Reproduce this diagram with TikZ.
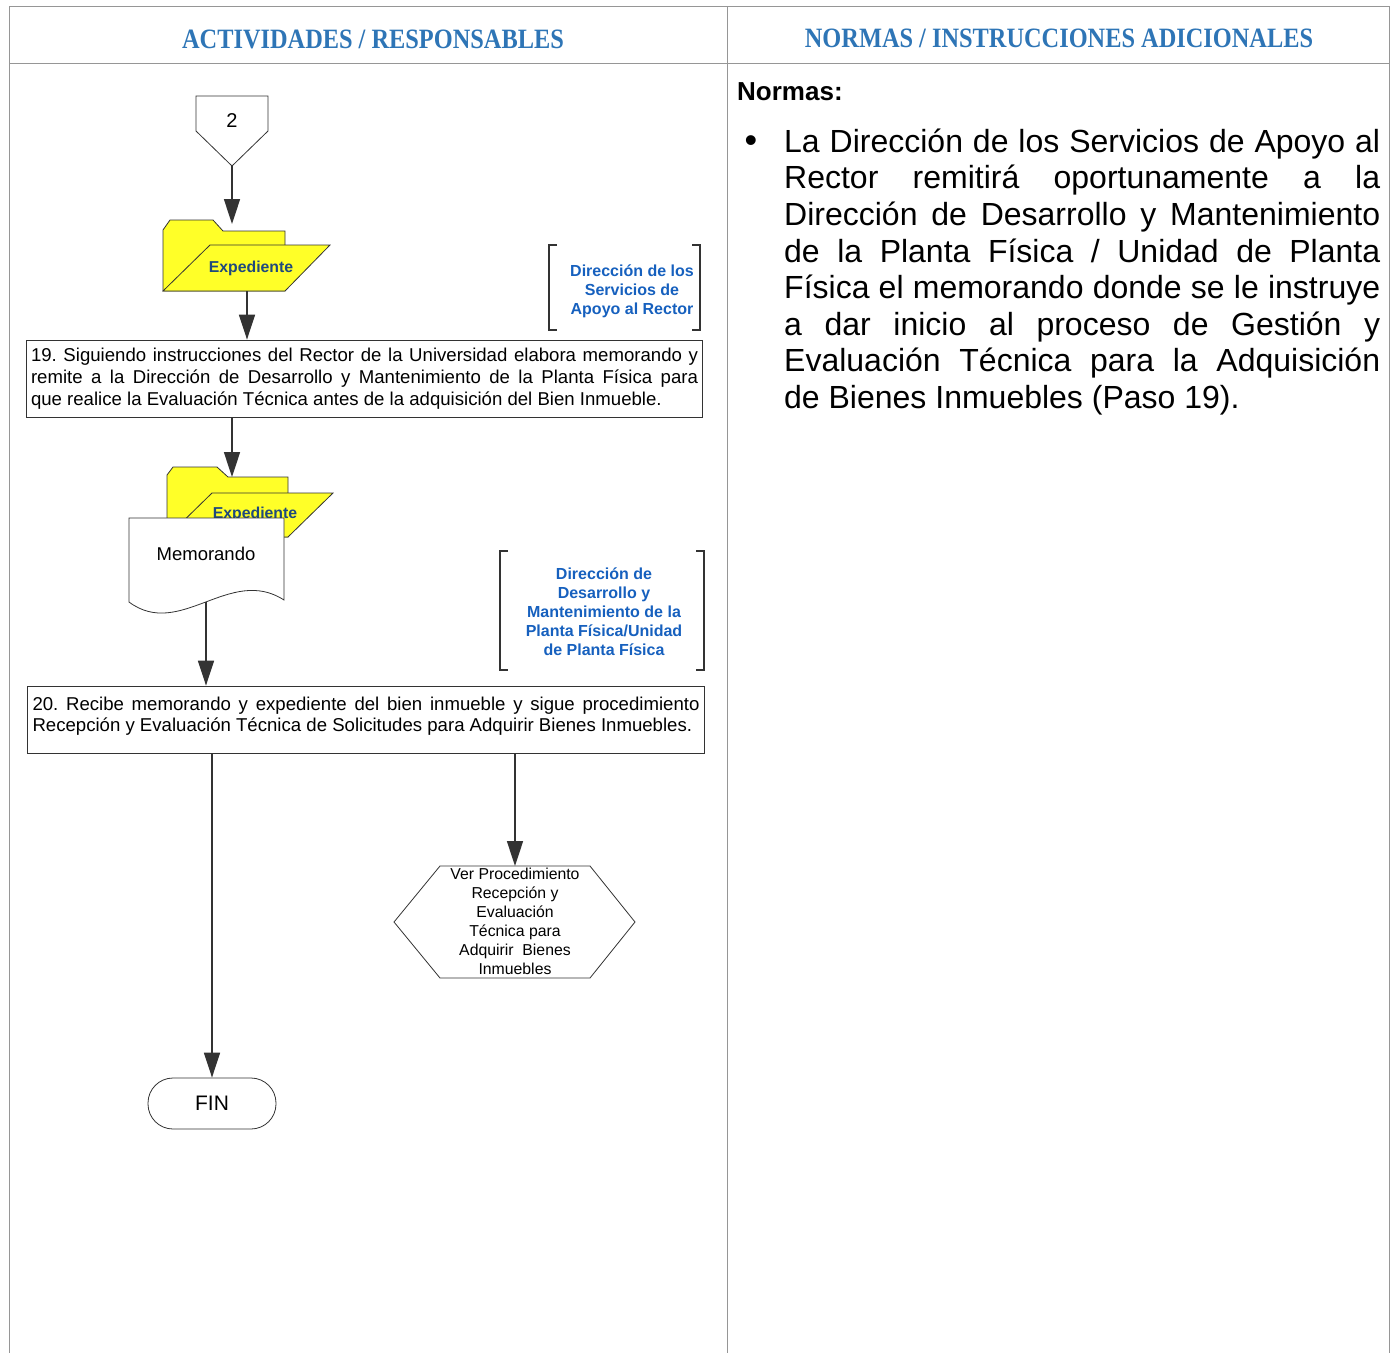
\documentclass[tikz,border=0pt]{standalone}
\usepackage{fontspec}
\setmainfont{Liberation Sans}
\newfontfamily\headfont{Liberation Serif}
\usetikzlibrary{
  arrows.meta,
  calc,
  positioning,
}
\definecolor{headblue}{RGB}{46,117,182}
\definecolor{rolblue}{RGB}{22,96,190}
\definecolor{folderblue}{RGB}{31,73,125}
\definecolor{folderyellow}{RGB}{255,255,40}
\definecolor{framegray}{RGB}{150,150,150}
\definecolor{linegray}{RGB}{51,51,51}
\tikzstyle{arrow} = [
  -{Triangle[width=16pt,length=25pt]},
  line width=1.6pt,
  draw=linegray,
]
\tikzstyle{frame} = [draw=framegray, line width=0.8pt]
\tikzstyle{shape line} = [draw=linegray, line width=0.8pt]
\tikzstyle{bracket} = [draw=linegray, line width=2.6pt]
\tikzstyle{header} = [text=headblue, font=\headfont\bfseries]
\tikzstyle{rol} = [
  text=rolblue,
  align=center,
  font=\fontsize{16}{19}\selectfont\bfseries,
]
\tikzstyle{step text} = [
  text width=667pt,
  align=justify,
  inner sep=0pt,
]
\frenchspacing

\begin{document}
\begin{tikzpicture}[x=1pt, y=-1pt]
  \useasboundingbox (0, 0) rectangle (1393, 1353);

  % frame
  \draw[frame] (9, 6) -- (1389, 6);
  \draw[frame] (9, 63) -- (1389, 63);
  \draw[frame] (9, 6) -- (9, 1353);
  \draw[frame] (727, 6) -- (727, 1353);
  \draw[frame] (1389, 6) -- (1389, 1353);

  \node[header] (headleft) at (373, 39)
    {\scalebox{0.87}[1]{\fontsize{28}{28}\selectfont ACTIVIDADES / RESPONSABLES}};
  \node[header] (headright) at (1059, 38)
    {\scalebox{0.87}[1]{\fontsize{28}{28}\selectfont NORMAS / INSTRUCCIONES ADICIONALES}};

  % off-page connector
  \draw[shape line, fill=white] (196, 96) -- (268, 96) -- (268, 131) -- (232, 166) -- (196, 131) -- cycle;
  \node (con2) at (232, 121) {\fontsize{20}{20}\selectfont 2};
  \coordinate (con2tip) at (232, 166);

  % first folder
  \draw[shape line, fill=folderyellow] (163, 291) -- (163, 230) -- (170, 220) -- (213, 220)
    -- (223, 231) -- (285, 231) -- (285, 291) -- cycle;
  \draw[shape line, fill=folderyellow] (163, 291) -- (210, 245) -- (330, 245) -- (285, 291) -- cycle;
  \node[text=folderblue, font=\fontsize{15.8}{15.8}\selectfont\bfseries] (folder1) at (251, 268) {Expediente};
  \coordinate (folder1top) at (232, 224);
  \coordinate (folder1out) at (247, 291);

  % responsible 1
  \draw[bracket] (557, 245) -- (549, 245) -- (549, 330) -- (557, 330);
  \draw[bracket] (692, 245) -- (700, 245) -- (700, 330) -- (692, 330);
  \node[rol] (rol1) at (632, 291) {Dirección de los\\Servicios de\\Apoyo al Rector};

  % step 19
  \node[shape line, draw, minimum width=676pt, minimum height=77pt] (step19) at (364, 378.5) {};
  \node[step text, font=\fontsize{18.6}{22}\selectfont] (step19text) at (364.5, 379)
    {19. Siguiendo instrucciones del Rector de la Universidad elabora memorando y\linebreak
     remite a la Dirección de Desarrollo y Mantenimiento de la Planta Física para\linebreak
     que realice la Evaluación Técnica antes de la adquisición del Bien Inmueble.};

  % second folder with memo
  \draw[shape line, fill=folderyellow] (167, 537) -- (167, 475) -- (173, 467) -- (217, 467)
    -- (228, 477) -- (288, 477) -- (288, 537) -- cycle;
  \draw[shape line, fill=folderyellow] (167, 537) -- (212, 493) -- (333, 493) -- (288, 537) -- cycle;
  \node[text=folderblue, font=\fontsize{15.8}{15.8}\selectfont\bfseries] (folder2) at (255, 514) {Expediente};
  \coordinate (folder2top) at (232, 477);

  \draw[shape line, fill=white] (129, 518) -- (284, 518) -- (284, 600)
    .. controls (230, 565) and (180, 640) .. (129, 602) -- cycle;
  \node[font=\fontsize{18.5}{18.5}\selectfont] (memo) at (206, 554) {Memorando};
  \coordinate (memoout) at (206, 602);

  % responsible 2
  \draw[bracket] (508, 551) -- (500, 551) -- (500, 670) -- (508, 670);
  \draw[bracket] (696, 551) -- (704, 551) -- (704, 670) -- (696, 670);
  \node[rol] (rol2) at (604, 612)
    {Dirección de\\Desarrollo y\\Mantenimiento de la\\Planta Física/Unidad\\de Planta Física};

  % step 20
  \node[shape line, draw, minimum width=677pt, minimum height=67pt] (step20) at (365.5, 719.5) {};
  \node[step text, font=\fontsize{18.6}{21}\selectfont] (step20text) at (366, 716.5)
    {20. Recibe memorando y expediente del bien inmueble y sigue procedimiento\linebreak
     Recepción y Evaluación Técnica de Solicitudes para Adquirir Bienes Inmuebles.};

  % other procedure
  \draw[shape line, fill=white] (394, 922) -- (440, 866) -- (590, 866) -- (635, 922)
    -- (590, 978) -- (440, 978) -- cycle;
  \node[align=center, font=\fontsize{15.8}{19}\selectfont] (verproc) at (515, 921.5)
    {Ver Procedimiento\\Recepción y\\Evaluación\\Técnica para\\Adquirir~ Bienes\\Inmuebles};

  % end
  \node[shape line, draw, rounded corners=25pt, minimum width=128pt, minimum height=51pt,
    font=\fontsize{21}{21}\selectfont] (fin) at (212, 1103.5) {FIN};

  % connectors
  \draw[arrow] (con2tip) -- (folder1top);
  \draw[arrow] (folder1out) -- (folder1out |- step19.north);
  \draw[arrow] (step19.south -| folder2top) -- (folder2top);
  \draw[arrow] (memoout) -- (memoout |- step20.north);
  \draw[arrow] (step20.south -| fin.north) -- (fin.north);
  \draw[arrow] (step20.south -| verproc) -- (verproc |- 0, 866);

  % norms
  \node[anchor=west, inner sep=0pt, font=\fontsize{26}{26}\selectfont\bfseries] (normas) at (737, 92) {Normas:};
  \node[font=\fontsize{36}{36}\selectfont] (bullet) at (751, 144) {\textbullet};
  \node[anchor=north west, inner sep=0pt, text width=596pt, align=justify,
    font=\fontsize{32}{36.6}\selectfont] (normtext) at (784, 128.5)
    {La Dirección de los Servicios de Apoyo al\linebreak
     Rector remitirá oportunamente a la\linebreak
     Dirección de Desarrollo y Mantenimiento\linebreak
     de la Planta Física / Unidad de Planta\linebreak
     Física el memorando donde se le instruye\linebreak
     a dar inicio al proceso de Gestión y\linebreak
     Evaluación Técnica para la Adquisición\linebreak
     de Bienes Inmuebles (Paso 19).};
\end{tikzpicture}
\end{document}
